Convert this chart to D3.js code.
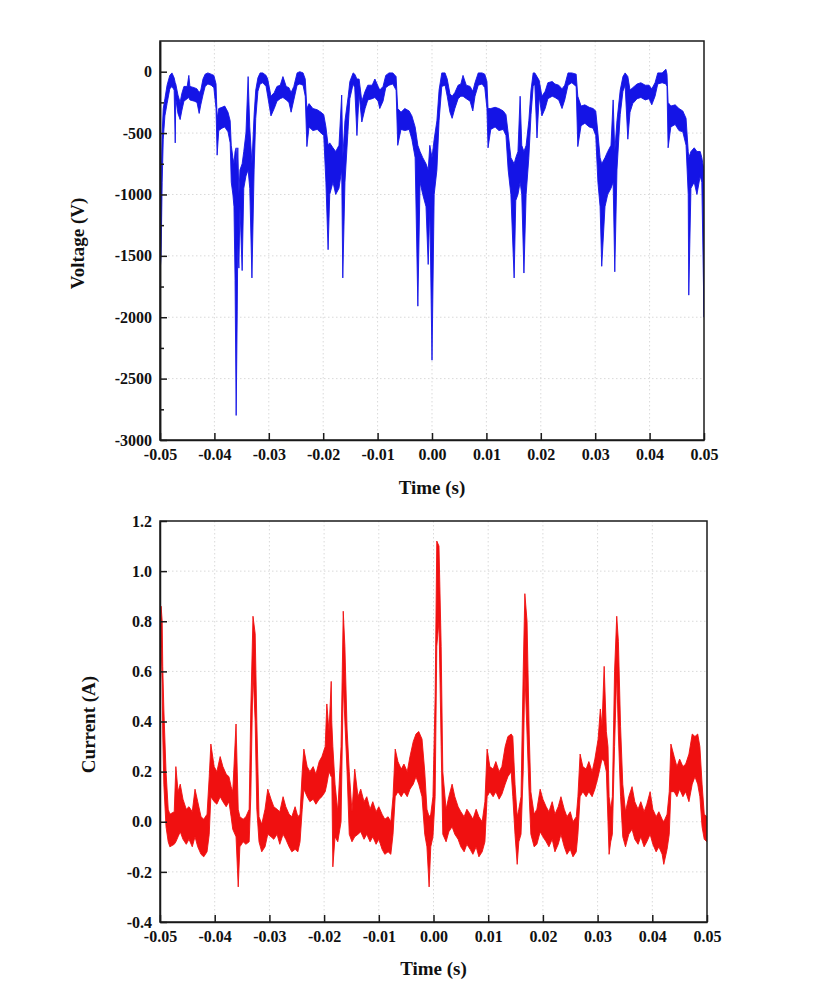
<!DOCTYPE html>
<html>
<head>
<meta charset="utf-8">
<script src="https://cdn.jsdelivr.net/npm/d3@7"></script>
<style>
  html, body { margin: 0; background: #fff; }
  svg text { font-family: "Liberation Serif", "Times New Roman", serif; font-weight: bold; fill: #111; }
  .tick text { font-size: 16px; }
  .title { font-size: 19px; }
</style>
</head>
<body>
<script>

const timeTicks = [-0.05, -0.04, -0.03, -0.02, -0.01, 0, 0.01, 0.02, 0.03, 0.04, 0.05];
const voltageTicks = [-3000, -2500, -2000, -1500, -1000, -500, 0];
const voltageMinorTicks = [-2750, -2250, -1750, -1250, -750, -250];
const currentTicks = [-0.4, -0.2, 0, 0.2, 0.4, 0.6, 0.8, 1.0, 1.2];

const voltageEnvelope = [
  [-0.0500, -1650, -1450], [-0.0498, -1500, -900], [-0.0496, -900, -500], [-0.0494, -550, -300],
  [-0.0491, -360, -220], [-0.0487, -260, -110], [-0.0482, -140, -30], [-0.0478, -120, -10],
  [-0.0474, -150, -50], [-0.0472, -580, -90], [-0.0471, -220, -100], [-0.0467, -340, -190],
  [-0.0463, -390, -250], [-0.0460, -320, -180], [-0.0456, -240, -120], [-0.0450, -220, -120],
  [-0.0447, -210, -30], [-0.0445, -230, -120], [-0.0437, -240, -130], [-0.0432, -250, -140],
  [-0.0428, -340, -170], [-0.0425, -270, -150], [-0.0421, -190, -60], [-0.0417, -120, -20],
  [-0.0412, -100, -10], [-0.0406, -110, -20], [-0.0401, -130, -30], [-0.0397, -300, -100],
  [-0.0395, -680, -380], [-0.0392, -480, -300], [-0.0386, -460, -290], [-0.0381, -450, -280],
  [-0.0375, -490, -330], [-0.0371, -580, -400], [-0.0369, -900, -600], [-0.0366, -1000, -700],
  [-0.0364, -1100, -750], [-0.0362, -1700, -650], [-0.0360, -2800, -620], [-0.0358, -1950, -800],
  [-0.0357, -1400, -620], [-0.0355, -1600, -1000], [-0.0353, -1100, -800], [-0.0349, -1620, -750],
  [-0.0346, -950, -650], [-0.0342, -850, -500], [-0.0338, -800, -40], [-0.0335, -950, -450],
  [-0.0331, -1680, -750], [-0.0327, -800, -350], [-0.0324, -380, -150], [-0.0320, -160, -50],
  [-0.0316, -100, -10], [-0.0311, -90, -10], [-0.0305, -120, -30], [-0.0302, -200, -60],
  [-0.0296, -360, -200], [-0.0290, -300, -170], [-0.0285, -240, -120], [-0.0279, -220, -110],
  [-0.0274, -210, -40], [-0.0268, -230, -120], [-0.0263, -250, -130], [-0.0259, -330, -170],
  [-0.0254, -230, -120], [-0.0248, -110, -10], [-0.0243, -100, 0], [-0.0237, -110, -10],
  [-0.0233, -200, -60], [-0.0230, -610, -300], [-0.0226, -450, -260], [-0.0219, -480, -300],
  [-0.0211, -470, -310], [-0.0204, -500, -330], [-0.0199, -520, -350], [-0.0195, -900, -450],
  [-0.0191, -1450, -600], [-0.0188, -1000, -580], [-0.0182, -900, -620], [-0.0177, -1000, -650],
  [-0.0171, -950, -600], [-0.0166, -800, -190], [-0.0164, -1680, -700], [-0.0160, -900, -400],
  [-0.0154, -450, -200], [-0.0151, -220, -80], [-0.0145, -100, -10], [-0.0142, -130, -20],
  [-0.0138, -520, -60], [-0.0134, -180, -60], [-0.0129, -410, -240], [-0.0123, -300, -160],
  [-0.0118, -230, -110], [-0.0110, -220, -110], [-0.0105, -210, -60], [-0.0099, -240, -120],
  [-0.0096, -300, -150], [-0.0090, -240, -120], [-0.0085, -130, -30], [-0.0079, -110, -10],
  [-0.0072, -100, -10], [-0.0066, -150, -40], [-0.0063, -600, -300], [-0.0057, -470, -330],
  [-0.0050, -480, -300], [-0.0042, -470, -320], [-0.0037, -550, -360], [-0.0031, -700, -450],
  [-0.0026, -1910, -600], [-0.0022, -900, -650], [-0.0017, -1000, -700], [-0.0011, -1100, -750],
  [-0.0007, -1570, -800], [-0.0004, -1100, -600], [0.0000, -2350, -700], [0.0004, -1000, -550],
  [0.0009, -800, -400], [0.0013, -400, -150], [0.0018, -120, -10], [0.0024, -110, -10],
  [0.0028, -200, -60], [0.0033, -330, -180], [0.0037, -380, -200], [0.0042, -300, -170],
  [0.0048, -220, -110], [0.0053, -200, -100], [0.0057, -200, -30], [0.0063, -220, -110],
  [0.0070, -240, -120], [0.0075, -320, -160], [0.0079, -200, -90], [0.0085, -110, -10],
  [0.0092, -100, -10], [0.0097, -130, -20], [0.0101, -300, -80], [0.0103, -620, -300],
  [0.0108, -470, -300], [0.0116, -450, -290], [0.0123, -480, -300], [0.0131, -470, -320],
  [0.0136, -520, -350], [0.0140, -800, -500], [0.0145, -1000, -700], [0.0151, -1680, -750],
  [0.0154, -1050, -700], [0.0158, -1000, -650], [0.0162, -900, -200], [0.0165, -1000, -600],
  [0.0169, -1640, -650], [0.0173, -1000, -600], [0.0178, -700, -400], [0.0182, -350, -150],
  [0.0186, -120, -10], [0.0189, -100, -10], [0.0193, -540, -40], [0.0197, -200, -70],
  [0.0202, -360, -200], [0.0208, -300, -160], [0.0213, -220, -90], [0.0221, -200, -80],
  [0.0226, -210, -100], [0.0233, -230, -110], [0.0239, -300, -140], [0.0244, -230, -110],
  [0.0250, -110, -10], [0.0257, -90, -10], [0.0265, -120, -20], [0.0268, -610, -200],
  [0.0274, -440, -280], [0.0281, -420, -270], [0.0289, -450, -290], [0.0296, -460, -300],
  [0.0301, -520, -320], [0.0305, -900, -500], [0.0309, -1100, -700], [0.0312, -1585, -750],
  [0.0318, -1100, -700], [0.0323, -1000, -650], [0.0329, -950, -600], [0.0333, -900, -230],
  [0.0336, -1630, -650], [0.0340, -800, -400], [0.0346, -350, -150], [0.0351, -160, -40],
  [0.0355, -110, -10], [0.0360, -550, -40], [0.0364, -330, -150], [0.0369, -260, -130],
  [0.0377, -220, -100], [0.0384, -210, -90], [0.0392, -230, -110], [0.0399, -220, -110],
  [0.0404, -270, -140], [0.0410, -200, -90], [0.0415, -100, -10], [0.0423, -90, -10],
  [0.0430, -100, 20], [0.0432, -120, -20], [0.0434, -620, -250], [0.0439, -450, -280],
  [0.0447, -430, -270], [0.0454, -480, -300], [0.0461, -490, -320], [0.0467, -600, -380],
  [0.0471, -1000, -650], [0.0472, -1820, -700], [0.0476, -950, -650], [0.0482, -900, -620],
  [0.0487, -1000, -650], [0.0493, -850, -650], [0.0496, -900, -700], [0.0500, -2000, -800]
];

const currentEnvelope = [
  [-0.0500, 0.60, 0.80], [-0.0498, 0.70, 0.86], [-0.0496, 0.55, 0.80], [-0.0495, 0.35, 0.62],
  [-0.0493, 0.15, 0.45], [-0.0489, -0.02, 0.20], [-0.0485, -0.08, 0.05], [-0.0482, -0.10, 0.03],
  [-0.0474, -0.09, 0.04], [-0.0471, -0.08, 0.22], [-0.0467, -0.06, 0.12], [-0.0463, -0.04, 0.15],
  [-0.0458, -0.07, 0.09], [-0.0452, -0.09, 0.05], [-0.0447, -0.07, 0.06], [-0.0441, -0.10, 0.04],
  [-0.0436, -0.06, 0.13], [-0.0431, -0.10, 0.08], [-0.0425, -0.13, 0.02], [-0.0420, -0.14, 0.01],
  [-0.0414, -0.12, 0.03], [-0.0410, -0.05, 0.18], [-0.0407, 0.10, 0.31], [-0.0401, 0.08, 0.22],
  [-0.0396, 0.07, 0.20], [-0.0390, 0.10, 0.26], [-0.0385, 0.08, 0.22], [-0.0379, 0.06, 0.19],
  [-0.0374, 0.08, 0.18], [-0.0370, 0.02, 0.14], [-0.0367, -0.03, 0.12], [-0.0361, -0.06, 0.39],
  [-0.0357, -0.26, 0.05], [-0.0354, -0.10, 0.02], [-0.0348, -0.08, 0.01], [-0.0343, -0.09, 0.02],
  [-0.0337, -0.08, 0.05], [-0.0334, 0.10, 0.45], [-0.0330, 0.60, 0.82], [-0.0326, 0.40, 0.75],
  [-0.0323, 0.05, 0.40], [-0.0319, -0.08, 0.02], [-0.0314, -0.12, -0.01], [-0.0308, -0.10, 0.05],
  [-0.0303, -0.05, 0.13], [-0.0297, -0.06, 0.09], [-0.0292, -0.07, 0.06], [-0.0286, -0.05, 0.05],
  [-0.0281, -0.09, 0.04], [-0.0275, -0.05, 0.10], [-0.0270, -0.07, 0.06], [-0.0264, -0.10, 0.03],
  [-0.0259, -0.12, 0.02], [-0.0253, -0.11, 0.06], [-0.0248, -0.12, 0.02], [-0.0244, -0.08, 0.03],
  [-0.0240, 0.05, 0.20], [-0.0237, 0.13, 0.29], [-0.0231, 0.10, 0.22], [-0.0226, 0.08, 0.20],
  [-0.0220, 0.09, 0.22], [-0.0215, 0.07, 0.19], [-0.0209, 0.09, 0.24], [-0.0204, 0.10, 0.26],
  [-0.0198, 0.12, 0.30], [-0.0195, 0.15, 0.47], [-0.0191, 0.20, 0.36], [-0.0187, 0.18, 0.56],
  [-0.0186, 0.20, 0.40], [-0.0184, -0.18, 0.30], [-0.0180, -0.06, 0.15], [-0.0175, -0.08, 0.04],
  [-0.0169, 0.00, 0.30], [-0.0165, 0.55, 0.84], [-0.0162, 0.40, 0.70], [-0.0158, 0.20, 0.37],
  [-0.0154, -0.05, 0.20], [-0.0149, -0.08, 0.04], [-0.0144, -0.06, 0.21], [-0.0138, -0.05, 0.10],
  [-0.0133, -0.04, 0.13], [-0.0127, -0.07, 0.08], [-0.0122, -0.05, 0.10], [-0.0116, -0.08, 0.05],
  [-0.0111, -0.06, 0.08], [-0.0105, -0.09, 0.04], [-0.0100, -0.07, 0.06], [-0.0094, -0.11, 0.03],
  [-0.0089, -0.13, 0.01], [-0.0083, -0.12, 0.02], [-0.0078, -0.13, 0.00], [-0.0074, -0.05, 0.10],
  [-0.0070, 0.10, 0.29], [-0.0065, 0.12, 0.24], [-0.0059, 0.10, 0.21], [-0.0054, 0.12, 0.23],
  [-0.0048, 0.10, 0.20], [-0.0043, 0.13, 0.26], [-0.0037, 0.15, 0.32], [-0.0032, 0.18, 0.35],
  [-0.0027, 0.15, 0.36], [-0.0021, 0.10, 0.33], [-0.0016, -0.05, 0.20], [-0.0012, -0.10, 0.05],
  [-0.0008, -0.26, 0.02], [-0.0005, -0.10, 0.03], [-0.0001, -0.06, 0.10], [0.0003, 0.10, 0.50],
  [0.0006, 0.70, 1.12], [0.0010, 0.80, 1.10], [0.0014, 0.30, 0.70], [0.0017, -0.05, 0.20],
  [0.0023, -0.08, 0.05], [0.0028, -0.04, 0.10], [0.0034, -0.02, 0.15], [0.0039, -0.05, 0.10],
  [0.0045, -0.07, 0.06], [0.0050, -0.10, 0.04], [0.0056, -0.12, 0.02], [0.0061, -0.09, 0.05],
  [0.0067, -0.11, 0.03], [0.0072, -0.13, 0.01], [0.0078, -0.10, 0.05], [0.0083, -0.14, 0.02],
  [0.0089, -0.12, 0.00], [0.0094, -0.08, 0.08], [0.0098, 0.10, 0.29], [0.0103, 0.12, 0.22],
  [0.0109, 0.10, 0.21], [0.0114, 0.12, 0.24], [0.0120, 0.09, 0.20], [0.0125, 0.11, 0.22],
  [0.0131, 0.15, 0.30], [0.0136, 0.18, 0.34], [0.0142, 0.20, 0.35], [0.0145, 0.10, 0.34],
  [0.0149, -0.05, 0.15], [0.0153, -0.17, 0.02], [0.0156, -0.08, 0.05], [0.0160, -0.05, 0.10],
  [0.0164, 0.20, 0.60], [0.0167, 0.60, 0.91], [0.0171, 0.35, 0.80], [0.0175, 0.10, 0.35],
  [0.0178, -0.05, 0.12], [0.0184, -0.10, 0.03], [0.0189, -0.09, 0.05], [0.0195, -0.04, 0.13],
  [0.0200, -0.06, 0.09], [0.0206, -0.08, 0.06], [0.0211, -0.10, 0.04], [0.0217, -0.07, 0.08],
  [0.0222, -0.12, 0.03], [0.0228, -0.09, 0.06], [0.0233, -0.05, 0.10], [0.0239, -0.10, 0.05],
  [0.0244, -0.13, 0.02], [0.0250, -0.11, 0.04], [0.0255, -0.14, 0.00], [0.0261, -0.12, 0.02],
  [0.0264, -0.05, 0.10], [0.0268, 0.10, 0.27], [0.0273, 0.12, 0.22], [0.0279, 0.10, 0.21],
  [0.0284, 0.12, 0.24], [0.0290, 0.10, 0.20], [0.0295, 0.13, 0.25], [0.0301, 0.18, 0.33],
  [0.0305, 0.22, 0.45], [0.0308, 0.25, 0.38], [0.0312, 0.24, 0.62], [0.0316, 0.20, 0.36],
  [0.0319, 0.00, 0.30], [0.0321, -0.13, 0.10], [0.0324, -0.08, 0.05], [0.0327, -0.05, 0.10],
  [0.0331, 0.30, 0.60], [0.0335, 0.60, 0.82], [0.0338, 0.35, 0.72], [0.0342, 0.10, 0.38],
  [0.0346, -0.06, 0.15], [0.0351, -0.10, 0.04], [0.0357, -0.05, 0.10], [0.0363, -0.03, 0.14],
  [0.0368, -0.07, 0.08], [0.0374, -0.09, 0.05], [0.0379, -0.06, 0.08], [0.0385, -0.10, 0.04],
  [0.0390, -0.08, 0.07], [0.0396, -0.05, 0.12], [0.0401, -0.09, 0.05], [0.0407, -0.12, 0.02],
  [0.0412, -0.10, 0.04], [0.0418, -0.13, 0.01], [0.0421, -0.17, 0.00], [0.0427, -0.11, 0.03],
  [0.0431, -0.05, 0.12], [0.0434, 0.12, 0.31], [0.0440, 0.12, 0.26], [0.0445, 0.10, 0.22],
  [0.0450, 0.13, 0.25], [0.0456, 0.10, 0.22], [0.0461, 0.12, 0.23], [0.0467, 0.08, 0.27],
  [0.0473, 0.15, 0.35], [0.0478, 0.18, 0.34], [0.0483, 0.15, 0.35], [0.0487, 0.10, 0.30],
  [0.0491, -0.02, 0.15], [0.0495, -0.07, 0.03], [0.0500, -0.08, 0.02]
];

const width = 839;
const height = 996;

const svg = d3.select('body').append('svg')
  .attr('width', width)
  .attr('height', height);

function drawPanel(p) {
  const x = d3.scaleLinear().domain([-0.05, 0.05]).range([p.left, p.right]);
  const y = d3.scaleLinear().domain(p.yDomain).range([p.bottom, p.top]);
  const g = svg.append('g');

  // faint dotted grid
  g.append('g').selectAll('line').data(timeTicks.slice(1, -1)).join('line')
    .attr('x1', d => x(d)).attr('x2', d => x(d))
    .attr('y1', p.top).attr('y2', p.bottom)
    .attr('stroke', '#d9d9d9').attr('stroke-dasharray', '1.5,2.5');
  g.append('g').selectAll('line').data(p.yTicks.slice(1, -1)).join('line')
    .attr('x1', p.left).attr('x2', p.right)
    .attr('y1', d => y(d)).attr('y2', d => y(d))
    .attr('stroke', '#d9d9d9').attr('stroke-dasharray', '1.5,2.5');

  svg.append('clipPath').attr('id', p.id)
    .append('rect')
    .attr('x', p.left).attr('y', p.top)
    .attr('width', p.right - p.left).attr('height', p.bottom - p.top);

  const band = d3.area()
    .x(d => x(d[0]))
    .y0(d => y(d[1]))
    .y1(d => y(d[2]));

  g.append('path').datum(p.data)
    .attr('clip-path', `url(#${p.id})`)
    .attr('d', band)
    .attr('fill', p.color)
    .attr('stroke', p.color)
    .attr('stroke-width', 0.9)
    .attr('stroke-linejoin', 'round');

  const xAxis = d3.axisBottom(x)
    .tickValues(timeTicks)
    .tickFormat(d => d.toFixed(2))
    .tickSize(-7).tickSizeOuter(0).tickPadding(9);
  g.append('g')
    .attr('transform', `translate(0,${p.bottom})`)
    .call(xAxis);

  const yAxis = d3.axisLeft(y)
    .tickValues(p.yTicks)
    .tickFormat(p.yFormat)
    .tickSize(-7).tickSizeOuter(0).tickPadding(8);
  g.append('g')
    .attr('transform', `translate(${p.left},0)`)
    .call(yAxis);

  if (p.yMinor) {
    g.append('g')
      .attr('transform', `translate(${p.left},0)`)
      .call(d3.axisLeft(y).tickValues(p.yMinor).tickFormat('').tickSize(-4).tickSizeOuter(0));
  }

  g.selectAll('.domain').attr('stroke', '#1a1a1a').attr('stroke-width', 1.5);
  g.selectAll('.tick line').attr('stroke', '#1a1a1a').attr('stroke-width', 1.5);

  g.append('rect')
    .attr('x', p.left).attr('y', p.top)
    .attr('width', p.right - p.left).attr('height', p.bottom - p.top)
    .attr('fill', 'none')
    .attr('stroke', '#1a1a1a')
    .attr('stroke-width', 1.5);

  g.append('text')
    .attr('class', 'title')
    .attr('x', (p.left + p.right) / 2)
    .attr('y', p.xTitleY)
    .attr('text-anchor', 'middle')
    .text('Time (s)');

  g.append('text')
    .attr('class', 'title')
    .attr('transform', `translate(${p.yTitleX},${(p.top + p.bottom) / 2 + 3}) rotate(-90)`)
    .attr('text-anchor', 'middle')
    .text(p.yTitle);
}

drawPanel({
  id: 'clip-voltage',
  left: 160, right: 704, top: 41, bottom: 440,
  yDomain: [-3000, 250],
  yTicks: voltageTicks,
  yMinor: voltageMinorTicks,
  yFormat: d => String(d),
  data: voltageEnvelope,
  color: '#1414e6',
  yTitle: 'Voltage (V)',
  yTitleX: 84,
  xTitleY: 494
});

drawPanel({
  id: 'clip-current',
  left: 160, right: 707, top: 521, bottom: 922,
  yDomain: [-0.4, 1.2],
  yTicks: currentTicks,
  yMinor: null,
  yFormat: d => d.toFixed(1),
  data: currentEnvelope,
  color: '#f01010',
  yTitle: 'Current (A)',
  yTitleX: 95,
  xTitleY: 975
});

</script>
</body>
</html>
